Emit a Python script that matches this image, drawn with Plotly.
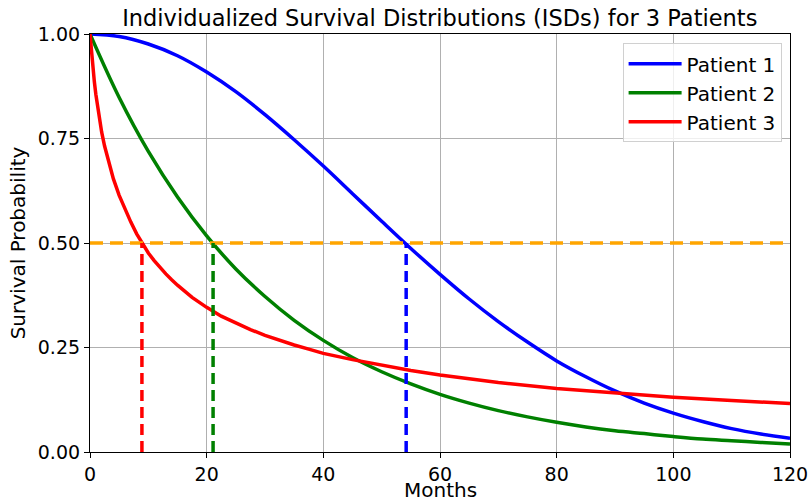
import plotly.graph_objects as go

# Months at which survival probabilities were read
months_p1 = [0, 5, 10, 15, 20, 25, 30, 35, 40, 45, 50, 55, 60, 65, 70, 75, 80, 85, 90, 95, 100, 105, 110, 115, 120]
surv_p1 = [1.0, 0.994, 0.976, 0.948, 0.909, 0.862, 0.807, 0.747, 0.684, 0.618, 0.552, 0.487, 0.425, 0.366,
           0.312, 0.263, 0.218, 0.180, 0.146, 0.117, 0.093, 0.073, 0.056, 0.043, 0.033]

months_p2 = [0, 5, 10, 15, 20, 25, 30, 35, 40, 45, 50, 55, 60, 65, 70, 75, 80, 85, 90, 95, 100, 105, 110, 115, 120]
surv_p2 = [1.0, 0.848, 0.719, 0.610, 0.517, 0.438, 0.372, 0.315, 0.267, 0.226, 0.192, 0.163, 0.138, 0.117,
           0.099, 0.084, 0.071, 0.060, 0.051, 0.044, 0.037, 0.031, 0.027, 0.023, 0.019]

months_p3 = [0, 0.25, 0.5, 0.75, 1, 1.5, 2, 2.5, 3, 3.5, 4, 5, 6, 7, 8, 9, 10, 11, 12, 13, 14, 15, 17.5, 20,
             22.5, 25, 27.5, 30, 32.5, 35, 37.5, 40, 45, 50, 55, 60, 70, 80, 90, 100, 110, 120]
surv_p3 = [1.0, 0.955, 0.918, 0.885, 0.856, 0.805, 0.765, 0.732, 0.703, 0.677, 0.654, 0.614, 0.580, 0.550,
           0.522, 0.497, 0.476, 0.458, 0.441, 0.426, 0.412, 0.399, 0.370, 0.346, 0.325, 0.308, 0.293, 0.279,
           0.267, 0.256, 0.246, 0.236, 0.221, 0.207, 0.195, 0.184, 0.166, 0.152, 0.141, 0.131, 0.123, 0.116]

patients = ["Patient 1", "Patient 2", "Patient 3"]
colors = ["blue", "green", "red"]
median_months = [54.2, 21.1, 8.9]
median_level = 0.5

x_ticks = [0, 20, 40, 60, 80, 100, 120]
y_ticks = [0.0, 0.25, 0.5, 0.75, 1.0]

fig = go.Figure()

series = [(months_p1, surv_p1), (months_p2, surv_p2), (months_p3, surv_p3)]
shapes = ["spline", "spline", "linear"]
for name, col, (xs, ys), shp in zip(patients, colors, series, shapes):
    fig.add_trace(go.Scatter(x=xs, y=ys, mode="lines", name=name,
                             line=dict(color=col, width=3.5, shape=shp)))

fig.add_trace(go.Scatter(x=[0, 120], y=[median_level, median_level], mode="lines", showlegend=False,
                         line=dict(color="orange", width=3.5, dash="13px,7px")))

for col, m in zip(colors, median_months):
    fig.add_trace(go.Scatter(x=[m, m], y=[0, median_level], mode="lines", showlegend=False,
                             line=dict(color=col, width=3.5, dash="11px,6px")))

font_family = "DejaVu Sans"
axis_common = dict(showline=True, linecolor="black", linewidth=1.2, mirror=True,
                   ticks="outside", ticklen=5, tickwidth=1.2, tickcolor="black",
                   showgrid=True, gridcolor="#b0b0b0", gridwidth=1, zeroline=False,
                   tickfont=dict(family=font_family, size=19, color="black"))

fig.update_layout(
    width=809, height=502,
    margin=dict(l=90, r=19, t=34, b=50),
    paper_bgcolor="white", plot_bgcolor="white",
    font=dict(family=font_family, color="black"),
    title=dict(text="Individualized Survival Distributions (ISDs) for 3 Patients",
               x=0.5436, xanchor="center", y=0.964, yanchor="middle",
               font=dict(family=font_family, size=22.5, color="black")),
    xaxis=dict(range=[0, 120], tickvals=x_ticks, **axis_common, automargin=False),
    yaxis=dict(range=[0, 1], tickvals=y_ticks, tickformat=".2f", **axis_common,
               title=dict(text="Survival Probability", font=dict(family=font_family, size=20), standoff=6),
               automargin=False),
    legend=dict(x=0.988, y=0.978, xanchor="right", yanchor="top",
                bgcolor="rgba(255,255,255,0.8)", bordercolor="#d0d0d0", borderwidth=1,
                font=dict(family=font_family, size=20, color="black"),
                itemwidth=53, tracegroupgap=0),
    showlegend=True,
)

# x-axis title as an annotation, placed low like the original
fig.add_annotation(text="Months", xref="paper", yref="paper", x=0.5, y=-0.0909, xanchor="center",
                   yanchor="middle", showarrow=False, font=dict(family=font_family, size=20, color="black"))

fig.write_html("out.html")
